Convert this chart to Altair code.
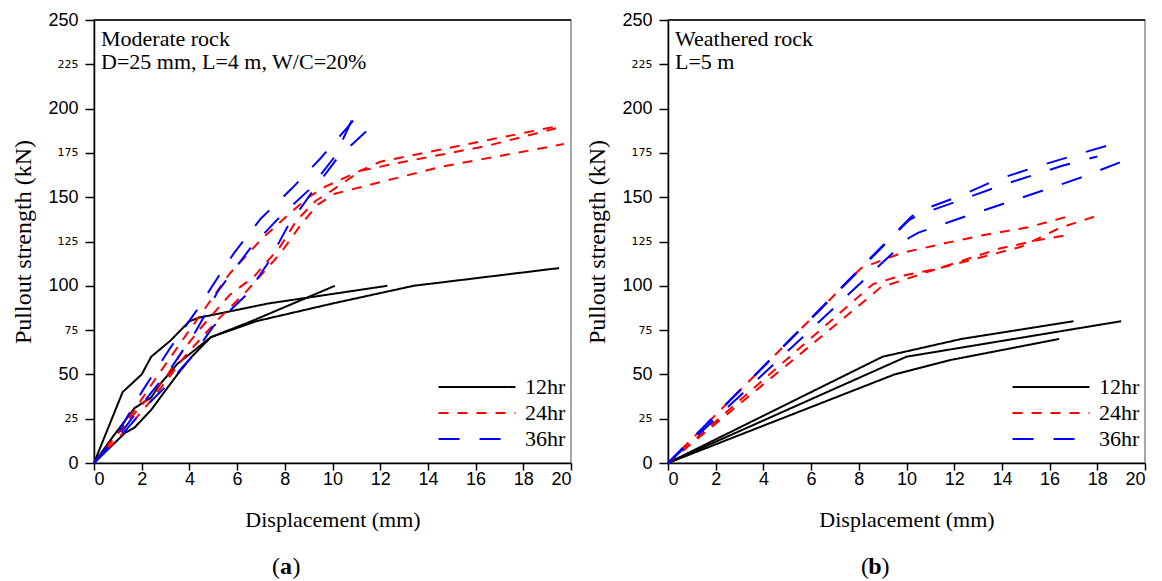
import altair as alt
import pandas as pd

# ---------------- data ----------------
series_names = ["12hr", "24hr", "36hr"]

# panel (a): moderate rock
a12_1_x = [0, 1.2, 2.0, 2.4, 3.2, 4.0, 4.4, 7.3, 12.3]
a12_1_y = [0, 40, 50, 60, 69, 80, 82, 90, 100]
a12_2_x = [0, 0.8, 1.7, 2.4, 2.8, 3.5, 4.9, 6.6, 10.1]
a12_2_y = [0, 15, 31, 37, 45, 56, 71, 80, 100]
a12_3_x = [0, 1.3, 1.7, 2.4, 3.0, 3.5, 4.1, 4.9, 6.8, 10.0, 13.4, 19.5]
a12_3_y = [0, 17, 20, 30, 41, 50, 60, 71, 80, 90, 100, 110]

a24_1_x = [0, 1.3, 2.5, 3.9, 4.8, 5.7, 7.0, 8.3, 9.0, 9.7, 12.0, 19.4]
a24_1_y = [0, 22, 46, 73, 90, 107, 126, 142, 150, 156, 170, 190]
a24_2_x = [0, 1.2, 2.4, 3.1, 3.7, 4.4, 5.7, 6.7, 7.8, 8.5, 9.3, 10.0, 11.2, 13.0, 16.5, 19.4]
a24_2_y = [0, 20, 39, 50, 63, 75, 95, 105, 122, 137, 148, 154, 165, 170, 179, 189]
a24_3_x = [0, 1.3, 2.5, 3.8, 5.2, 6.4, 7.8, 8.7, 9.4, 10.1, 14.5, 19.7]
a24_3_y = [0, 18, 37, 60, 81, 97, 118, 135, 146, 152, 167, 180]

a36_1_x = [0, 1.0, 2.0, 3.2, 4.3, 5.3, 5.9, 7.0, 8.3, 9.5, 10.6, 11.1]
a36_1_y = [0, 17, 40, 65, 86, 107, 119, 138, 155, 172, 189, 197]
a36_2_x = [0, 1.3, 2.3, 3.3, 4.3, 5.2, 6.6, 7.8, 9.0, 10.1, 10.9]
a36_2_y = [0, 20, 38, 55, 75, 97, 122, 139, 154, 173, 196]
a36_3_x = [0, 1.3, 2.4, 3.0, 3.7, 4.1, 5.0, 6.4, 7.3, 8.1, 9.2, 10.2, 11.8]
a36_3_y = [0, 18, 35, 43, 54, 60, 77, 95, 113, 133, 154, 172, 192]

# panel (b): weathered rock
b12_1_x = [0, 9.0, 10.0, 12.3, 17.0]
b12_1_y = [0, 60, 63, 70, 80]
b12_2_x = [0, 10.0, 19.0]
b12_2_y = [0, 60, 80]
b12_3_x = [0, 9.5, 11.8, 16.4]
b12_3_y = [0, 50, 58, 70]

b24_1_x = [0, 8.1, 9.8, 11.6, 13.2, 15.1, 17.0]
b24_1_y = [0, 110, 118.5, 124, 128.5, 133, 140]
b24_2_x = [0, 8.6, 9.6, 11.4, 13.1, 14.8, 16.4, 18.1]
b24_2_y = [0, 101, 105, 110, 116, 122, 132.5, 140]
b24_3_x = [0, 8.2, 8.9, 10.7, 12.3, 13.9, 15.6, 16.7]
b24_3_y = [0, 91, 99, 107, 114, 121, 126, 128.5]

b36_1_x = [0, 10.2, 10.6, 12.3, 13.8, 15.5, 17.2, 18.9]
b36_1_y = [0, 139, 142.5, 151, 160, 167.4, 174.3, 181]
b36_2_x = [0, 10.1, 10.5, 12.3, 14.0, 16.6, 18.0]
b36_2_y = [0, 137, 140, 148.5, 156.8, 168, 173]
b36_3_x = [0, 10.1, 10.5, 12.0, 14.0, 16.0, 17.5, 19.1]
b36_3_y = [0, 127, 130, 137, 146, 155, 162, 170.5]

x_ticks = list(range(0, 21, 2))
y_ticks = list(range(0, 251, 25))

# ---------------- build tables ----------------
def table(groups):
    rows = []
    for series, run, xs, ys in groups:
        for i, (xv, yv) in enumerate(zip(xs, ys)):
            rows.append({"series": series, "run": run, "order": i, "x": xv, "y": yv})
    return pd.DataFrame(rows)

df_a = table([
    ("12hr", 1, a12_1_x, a12_1_y), ("12hr", 2, a12_2_x, a12_2_y), ("12hr", 3, a12_3_x, a12_3_y),
    ("24hr", 4, a24_1_x, a24_1_y), ("24hr", 5, a24_2_x, a24_2_y), ("24hr", 6, a24_3_x, a24_3_y),
    ("36hr", 7, a36_1_x, a36_1_y), ("36hr", 8, a36_2_x, a36_2_y), ("36hr", 9, a36_3_x, a36_3_y),
])
df_b = table([
    ("12hr", 1, b12_1_x, b12_1_y), ("12hr", 2, b12_2_x, b12_2_y), ("12hr", 3, b12_3_x, b12_3_y),
    ("24hr", 4, b24_1_x, b24_1_y), ("24hr", 5, b24_2_x, b24_2_y), ("24hr", 6, b24_3_x, b24_3_y),
    ("36hr", 7, b36_1_x, b36_1_y), ("36hr", 8, b36_2_x, b36_2_y), ("36hr", 9, b36_3_x, b36_3_y),
])

W, H = 477, 443
SERIF = "Liberation Serif"
SANS = "Liberation Sans"
colors = ["#000000", "#ff0000", "#0000ff"]
dashes = [[1, 0], [10, 9], [21, 20]]


def panel(df, note_lines, cap_letter, cap_x):
    legend = alt.Legend(
        title=None, orient="none", legendX=372, legendY=356,
        symbolType="M-4,0H4", symbolSize=370, symbolStrokeWidth=2,
        labelFont=SERIF, labelFontSize=22, labelColor="black",
        labelOffset=37, rowPadding=4, padding=0,
    )
    lines = alt.Chart(df).mark_line(strokeWidth=2).encode(
        x=alt.X("x:Q", scale=alt.Scale(domain=[0, 20], nice=False),
                axis=alt.Axis(values=x_ticks, title="Displacement (mm)", format="d",
                              labelFontSize=18, tickSize=7, labelPadding=0, titlePadding=21)),
        y=alt.Y("y:Q", scale=alt.Scale(domain=[0, 250], nice=False),
                axis=alt.Axis(values=y_ticks, title="Pullout strength (kN)", format="d",
                              labelFontSize={"expr": "datum.value % 50 === 0 ? 18 : 11"},
                              labelFont={"expr": "datum.value % 50 === 0 ? 'Liberation Sans' : 'DejaVu Sans'"},
                              tickSize=9, labelPadding=7, titlePadding=12, titleFontSize=24)),
        color=alt.Color("series:N", scale=alt.Scale(domain=series_names, range=colors), legend=legend),
        strokeDash=alt.StrokeDash("series:N", scale=alt.Scale(domain=series_names, range=dashes), legend=legend),
        detail="run:N",
        order="order:Q",
    )
    one = pd.DataFrame({"k": [0]})
    top = alt.Chart(one).mark_rule(color="black", strokeWidth=1.5).encode(
        x=alt.value(0), x2=alt.value(W), y=alt.value(0))
    notes = []
    for i, t in enumerate(note_lines):
        notes.append(alt.Chart(one).mark_text(
            text=t, font=SERIF, fontSize=22, align="left", baseline="middle", color="black"
        ).encode(x=alt.value(7), y=alt.value(19 + 23 * i)))
    cap = [
        alt.Chart(one).mark_text(text="(", font=SERIF, fontSize=24, align="right", baseline="middle", color="black")
        .encode(x=alt.value(cap_x - 6), y=alt.value(547)),
        alt.Chart(one).mark_text(text=cap_letter, font=SERIF, fontSize=24, fontWeight="bold", align="center",
                                 baseline="middle", color="black")
        .encode(x=alt.value(cap_x), y=alt.value(547)),
        alt.Chart(one).mark_text(text=")", font=SERIF, fontSize=24, align="left", baseline="middle", color="black")
        .encode(x=alt.value(cap_x + 6.5), y=alt.value(547)),
    ]
    return alt.layer(lines, top, *notes, *cap).properties(width=W, height=H)


left = panel(df_a, ["Moderate rock", "D=25 mm, L=4 m, W/C=20%"], "a", 192)
right = panel(df_b, ["Weathered rock", "L=5 m"], "b", 207)

chart = alt.hconcat(left, right, spacing=97, bounds="flush").resolve_scale(
    color="independent", strokeDash="independent"
).resolve_legend(
    color="independent", strokeDash="independent"
).configure_axis(
    domainColor="black", domainWidth=1.5, tickColor="black", tickWidth=1.5,
    labelFont=SANS, labelColor="black", titleFont=SERIF, titleFontSize=22,
    titleFontWeight="normal", titleColor="black", grid=False,
).configure_view(
    stroke="#8a8a8a", strokeWidth=1.5
).properties(padding={"left": 3, "top": 2, "right": 5, "bottom": 0})

chart.save("out.html", embed_options={"renderer": "svg", "actions": False})
